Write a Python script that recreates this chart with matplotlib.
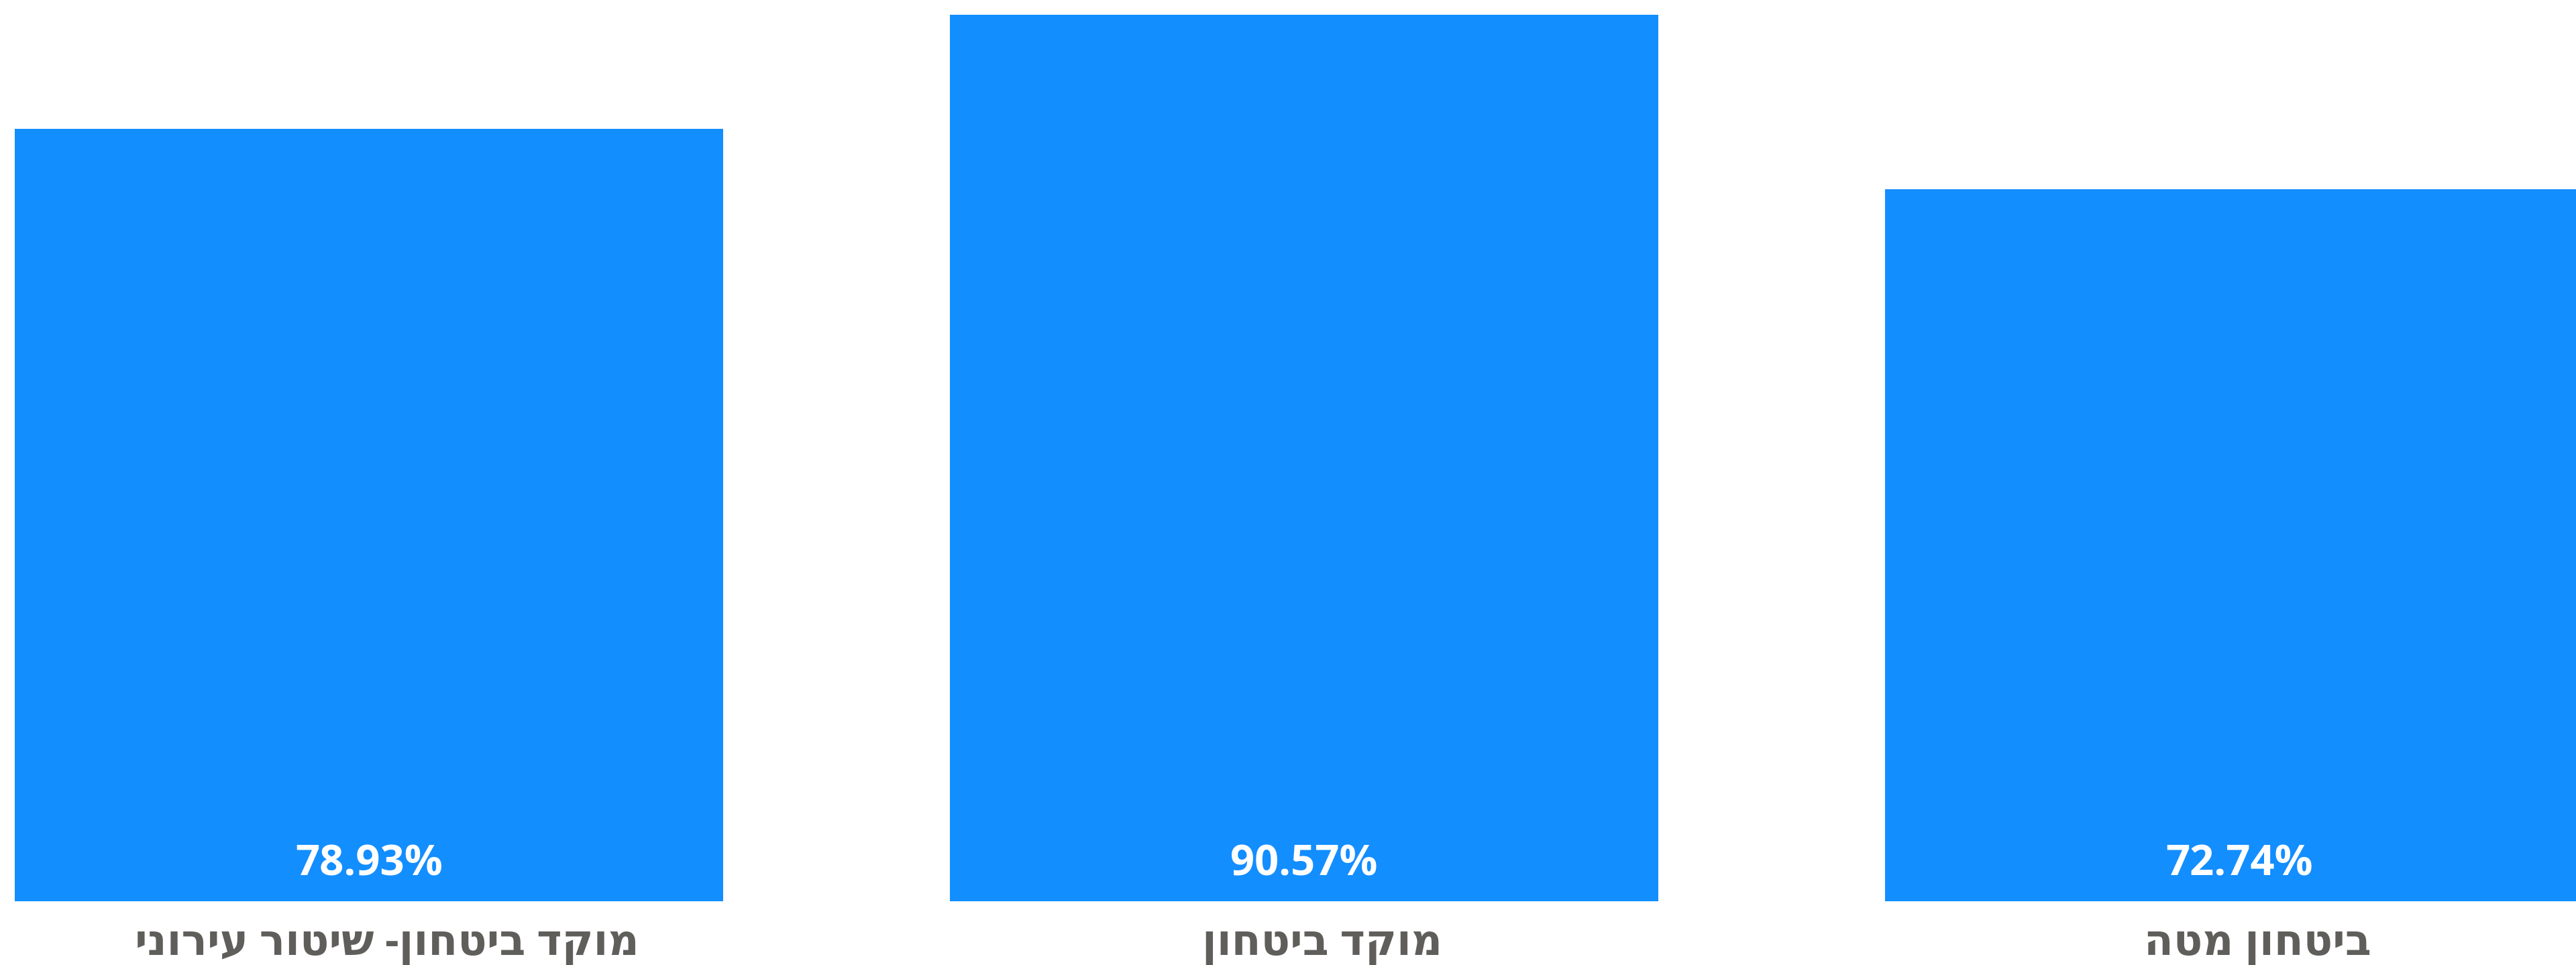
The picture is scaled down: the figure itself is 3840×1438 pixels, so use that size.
import matplotlib
matplotlib.use('Agg')
import matplotlib.pyplot as plt
from matplotlib.transforms import ScaledTranslation

plt.rcParams['font.family'] = ['Open Sans', 'DejaVu Sans']

# data
categories = ['מוקד ביטחון- שיטור עירוני', 'מוקד ביטחון', 'ביטחון מטה']
values = [78.93, 90.57, 72.74]
value_labels = ['78.93%', '90.57%', '72.74%']

bar_color = '#138EFF'
text_gray = '#605E5B'

fig = plt.figure(figsize=(38.41, 14.38), dpi=100)
ax = fig.add_axes([0, 1 - 1343 / 1438, 1, (1343 - 22) / 1438])

x = list(range(len(categories)))
ax.bar(x, values, width=0.7575, color=bar_color)

for xi, lab in zip(x, value_labels):
    ax.text(xi, 3.8, lab, ha='center', va='center', color='white',
            fontsize=45.5, fontweight='bold')

ax.set_xlim(-0.3946, 2.3608)
ax.set_ylim(0, max(values))
ax.set_xticks(x)
# matplotlib has no bidi support, so Hebrew is reversed to visual order
ax.set_xticklabels([c[::-1] for c in categories], fontsize=46,
                   fontweight='bold', color=text_gray)
ax.tick_params(axis='x', length=0, pad=22)
# labels in the original sit a bit right of the bar centres
shift = ScaledTranslation(27 / 100, 0, fig.dpi_scale_trans)
for lbl in ax.get_xticklabels():
    lbl.set_transform(lbl.get_transform() + shift)
ax.set_yticks([])
for s in ax.spines.values():
    s.set_visible(False)

fig.savefig('out.png', dpi=100)
